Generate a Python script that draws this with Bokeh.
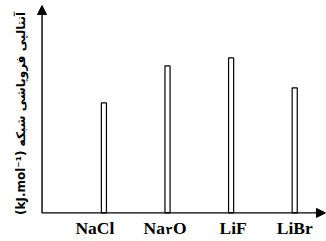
import re
from math import pi
from bokeh.plotting import figure
from bokeh.models import Range1d, Arrow, NormalHead, ColumnDataSource
from bokeh.core.properties import value
from bokeh.embed import file_html
from bokeh.resources import INLINE

# ---- data ----
categories = ["NaCl", "Na۲O", "LiF", "LiBr"]
enthalpy = [110, 147, 155, 125]          # relative bar heights (no numeric scale shown)
y_label = "(kJ.mol⁻¹) آنتالپی فروپاشی شبکه"

# ---- layout constants ----
W, H = 326, 241
label_dx = [-9, 2, 2, 0]                 # px nudges of category labels
label_y = -15
positions = list(range(len(categories)))

p = figure(width=W, height=H, output_backend="svg", toolbar_location=None,
           x_range=Range1d(-1.626, 3.5), y_range=Range1d(-28.6, 212.4),
           min_border=0, background_fill_color="white", border_fill_color="white")
p.axis.visible = False
p.grid.visible = False
p.outline_line_color = None

# bars
p.vbar(x=positions, top=enthalpy, bottom=0, width=0.08,
       fill_color="white", line_color="black", line_width=1.2)

# axes with arrow heads
ax = -0.973
p.add_layout(Arrow(x_start=ax, y_start=0, x_end=ax, y_end=207.4,
                   line_color="black", line_width=1.4,
                   end=NormalHead(size=9, fill_color="black", line_color="black", line_width=1)))
p.add_layout(Arrow(x_start=ax, y_start=0, x_end=3.484, y_end=0,
                   line_color="black", line_width=1.4,
                   end=NormalHead(size=9, fill_color="black", line_color="black", line_width=1)))

# category labels
serif = value("Liberation Serif")
plain_x, plain_t, plain_dx = [], [], []
for i, (c, dx) in enumerate(zip(categories, label_dx)):
    m = re.match(r"^(\D*?)([۰-۹]+)(\D*)$", c)
    if m:
        pre, dig, suf = m.groups()
        p.text(x=[i], y=[label_y], text=[pre], x_offset=[dx - 4.5], text_align="right",
               text_baseline="middle", text_font=serif, text_font_style="bold",
               text_font_size="17.5px", text_color="black")
        p.text(x=[i], y=[label_y], text=[dig], x_offset=[dx - 0.5], y_offset=[3],
               text_align="center", text_baseline="middle",
               text_font=value("DejaVu Sans"), text_font_style="bold",
               text_font_size="11px", text_color="black")
        p.text(x=[i], y=[label_y], text=[suf], x_offset=[dx + 3.5], text_align="left",
               text_baseline="middle", text_font=serif, text_font_style="bold",
               text_font_size="17.5px", text_color="black")
    else:
        plain_x.append(i); plain_t.append(c); plain_dx.append(dx)

src = ColumnDataSource(dict(x=plain_x, y=[label_y] * len(plain_x), t=plain_t, dx=plain_dx))
p.text(x="x", y="y", text="t", x_offset="dx", source=src, text_align="center",
       text_baseline="middle", text_font=serif, text_font_style="bold",
       text_font_size="17.5px", text_color="black")

# y axis title (rotated)
p.text(x=[-1.311], y=[99.5], text=[y_label], angle=pi / 2, text_align="center",
       text_baseline="middle", text_font=value("DejaVu Sans"), text_font_style="bold",
       text_font_size="12px", text_color="black")

open("out.html", "w").write(file_html(p, INLINE))
